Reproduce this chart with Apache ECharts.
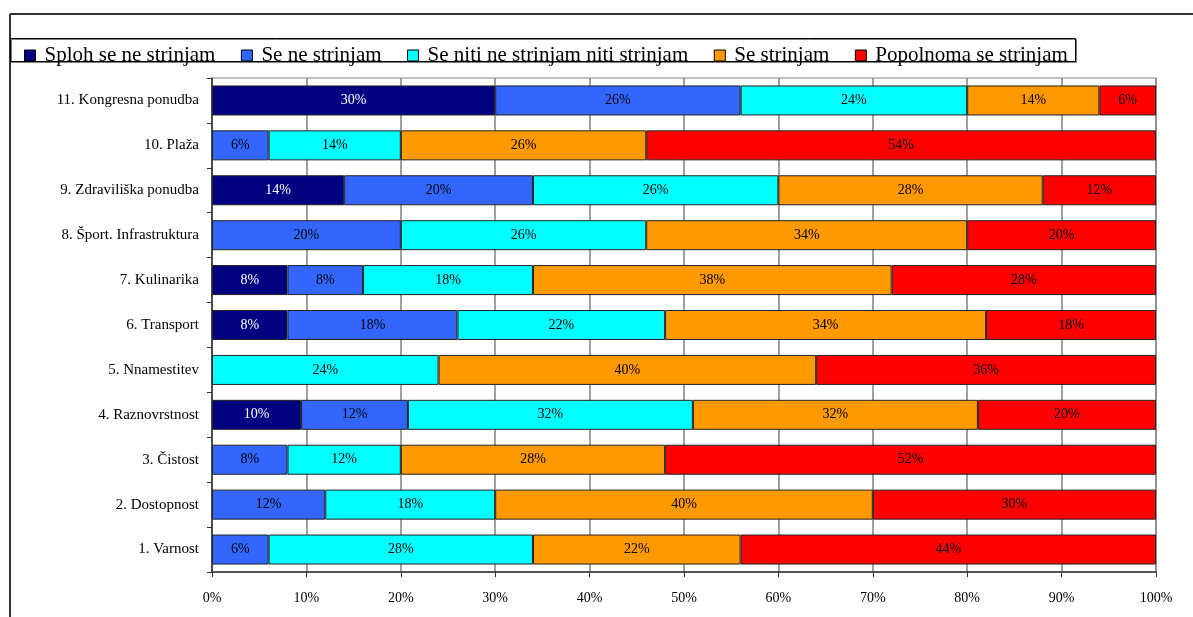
<!DOCTYPE html>
<html>
<head>
<meta charset="utf-8">
<script src="https://cdn.jsdelivr.net/npm/echarts@6/dist/echarts.min.js"></script>
<style>
  html, body { margin: 0; padding: 0; background: #fff; }
  #chart { width: 1193px; height: 617px; }
</style>
</head>
<body>
<div id="chart"></div>
<script>
// Survey items, listed bottom to top on the category axis
const categories = [
  '1. Varnost',
  '2. Dostopnost',
  '3. Čistost',
  '4. Raznovrstnost',
  '5. Nnamestitev',
  '6. Transport',
  '7. Kulinarika',
  '8. Šport. Infrastruktura',
  '9. Zdraviliška ponudba',
  '10. Plaža',
  '11. Kongresna ponudba'
];

// Answer shares (%) per item, same order as categories
const splohSeNeStrinjam     = [0,  0,  0, 10,  0,  8,  8,  0, 14,  0, 30];
const seNeStrinjam          = [6, 12,  8, 12,  0, 18,  8, 20, 20,  6, 26];
const nitiNeNitiStrinjam    = [28, 18, 12, 32, 24, 22, 18, 26, 26, 14, 24];
const seStrinjam            = [22, 40, 28, 32, 40, 34, 38, 34, 28, 26, 14];
const popolnomaSeStrinjam   = [44, 30, 52, 20, 36, 18, 28, 20, 12, 54,  6];

const seriesNames = [
  'Sploh se ne strinjam',
  'Se ne strinjam',
  'Se niti ne strinjam niti strinjam',
  'Se strinjam',
  'Popolnoma se strinjam'
];
const seriesValues = [
  splohSeNeStrinjam,
  seNeStrinjam,
  nitiNeNitiStrinjam,
  seStrinjam,
  popolnomaSeStrinjam
];
const seriesColors = ['#000080', '#3366FF', '#00FFFF', '#FF9900', '#FF0000'];

// 100% stacking: each bar segment is its share of the row total
const rowTotals = categories.map((_, i) =>
  seriesValues.reduce((s, arr) => s + arr[i], 0));

const FONT = '"Liberation Serif", "Times New Roman", serif';

const series = seriesNames.map((name, k) => ({
  name: name,
  type: 'bar',
  stack: 'total',
  barWidth: 30,
  data: seriesValues[k].map((v, i) => ({
    value: v === 0 ? null : v / rowTotals[i] * 100,
    raw: v
  })),
  itemStyle: { color: seriesColors[k], borderColor: '#222', borderWidth: 1 },
  label: {
    show: true,
    position: 'inside',
    fontFamily: FONT,
    fontSize: 14,
    color: k === 0 ? '#ffffff' : '#000000',
    formatter: p => p.data.raw + '%'
  },
  emphasis: { disabled: true }
}));

const chart = echarts.init(document.getElementById('chart'), null, { renderer: 'canvas' });

chart.setOption({
  animation: false,
  backgroundColor: '#ffffff',
  textStyle: { fontFamily: FONT },
  grid: {
    left: 212, right: 37, top: 78, bottom: 45,
    show: true, borderColor: '#808080', borderWidth: 1
  },
  legend: {
    data: seriesNames,
    left: 19, top: 40,
    icon: 'rect',
    itemWidth: 11, itemHeight: 11,
    itemGap: 25.5,
    itemStyle: { borderColor: '#000', borderWidth: 1 },
    textStyle: { fontFamily: FONT, fontSize: 21, color: '#000', padding: [0, 0, 0, 4] },
    selectedMode: false
  },
  xAxis: {
    type: 'value',
    min: 0, max: 100, interval: 10,
    axisLine: { show: true, lineStyle: { color: '#333', width: 1.5 } },
    axisTick: { show: true, length: 5, lineStyle: { color: '#333' } },
    axisLabel: { formatter: '{value}%', fontFamily: FONT, fontSize: 14, color: '#000', margin: 19 },
    splitLine: { show: true, lineStyle: { color: '#808080', width: 1.5 } }
  },
  yAxis: {
    type: 'category',
    data: categories,
    axisLine: { show: true, lineStyle: { color: '#333', width: 1.5 } },
    axisTick: { show: true, length: 5, lineStyle: { color: '#333' } },
    axisLabel: { fontFamily: FONT, fontSize: 15, color: '#000', margin: 13 },
    splitLine: { show: false }
  },
  graphic: [
    { type: 'line', shape: { x1: 10, y1: 14, x2: 1193, y2: 14 }, style: { stroke: '#333', lineWidth: 2 }, silent: true },
    { type: 'line', shape: { x1: 10, y1: 14, x2: 10, y2: 617 }, style: { stroke: '#333', lineWidth: 2 }, silent: true },
    { type: 'rect', shape: { x: 10.5, y: 38.5, width: 1065, height: 23 },
      style: { fill: null, stroke: '#000', lineWidth: 1, shadowColor: 'rgba(0,0,0,0.5)', shadowOffsetX: 1, shadowOffsetY: 1 },
      z: 100, silent: true }
  ],
  series: series
});
</script>
</body>
</html>
